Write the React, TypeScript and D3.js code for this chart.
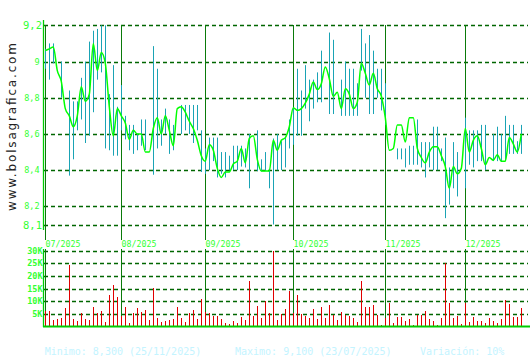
import React from "react";
import * as d3 from "d3";

// ---------- DATA ----------
const priceLine: number[] = [
  9.06, 9.07, 9.08, 8.95, 8.89, 8.74, 8.70, 8.64, 8.70, 8.86,
  8.78, 8.82, 9.10, 8.95, 9.05, 8.99, 8.75, 8.59, 8.74, 8.70,
  8.66, 8.57, 8.62, 8.60, 8.60, 8.50, 8.50, 8.63, 8.69, 8.60,
  8.70, 8.62, 8.535, 8.74, 8.75, 8.72, 8.67, 8.63, 8.565, 8.48,
  8.45, 8.54, 8.51, 8.41, 8.36, 8.39, 8.39, 8.435, 8.45, 8.52,
  8.44, 8.575, 8.59, 8.46, 8.395, 8.395, 8.395, 8.565, 8.51, 8.565,
  8.58, 8.64, 8.745, 8.73, 8.74, 8.77, 8.82, 8.887, 8.845, 8.877,
  8.97, 8.905, 8.807, 8.83, 8.74, 8.85, 8.82, 8.74, 8.775, 8.99,
  8.935, 8.87, 8.935, 8.85, 8.81, 8.69, 8.51, 8.52, 8.65, 8.65,
  8.555, 8.69, 8.69, 8.52, 8.47, 8.44, 8.50, 8.53, 8.53, 8.48,
  8.42, 8.30, 8.42, 8.38, 8.41, 8.63, 8.50, 8.565, 8.59, 8.52,
  8.43, 8.47, 8.455, 8.485, 8.45, 8.45, 8.58, 8.545, 8.50, 8.60,
];

const highs: (number | null)[] = [
  9.07, 9.10, 9.10, null, 9.00, null, 8.84, 8.78, 8.78, 8.91,
  9.00, 9.11, 9.17, 9.18, 9.20, 9.20, 8.82, 8.98, 8.75, 8.87,
  8.70, 8.65, 8.65, 8.60, 8.68, 8.68, null, 9.085, 8.96, 8.68,
  8.74, 8.68, 8.65, null, 8.76, 8.76, 8.76, 8.76, 8.76, 8.62,
  8.52, 8.58, 8.58, 8.58, 8.50, 8.50, 8.48, 8.535, 8.535, 8.535,
  8.52, 8.60, null, 8.62, 8.46, 8.50, 8.40, 8.575, 8.60, 8.56,
  8.58, 8.68, 8.745, 8.96, 8.84, 8.98, 8.90, 8.90, 8.94, 9.06,
  null, 9.16, 9.12, null, 8.90, 9.00, 8.96, 8.96, 8.88, 9.18,
  9.10, 9.146, 9.06, 8.96, 8.96, 8.88, null, null, 8.52, 8.52,
  8.52, 8.535, 8.535, 8.68, 8.555, 8.555, 8.555, 8.64, 8.64, 8.52,
  8.58, 8.415, 8.555, 8.50, null, 8.69, 8.62, 8.62, 8.62, 8.65,
  8.65, null, 8.60, 8.64, 8.60, 8.70, 8.65, 8.65, 8.56, 8.65,
];

const lows: (number | null)[] = [
  8.96, 8.90, 8.99, null, 8.80, null, 8.37, 8.46, 8.62, 8.68,
  8.55, 8.59, 8.72, 8.90, 8.94, 8.52, 8.51, 8.48, 8.48, 8.62,
  8.57, 8.51, 8.49, 8.51, 8.535, 8.51, null, 8.375, 8.52, 8.535,
  8.60, 8.49, 8.51, null, 8.60, 8.62, 8.60, 8.55, 8.62, 8.39,
  8.38, 8.40, 8.45, 8.36, 8.38, 8.36, 8.40, 8.40, 8.40, 8.42,
  8.415, 8.30, null, 8.395, 8.395, 8.395, 8.30, 8.10, 8.40, 8.40,
  8.415, 8.52, 8.54, 8.59, 8.59, 8.74, 8.67, 8.74, 8.775, 8.775,
  null, 8.71, 8.71, null, 8.70, 8.70, 8.70, 8.70, 8.70, 8.95,
  8.80, 8.71, 8.71, 8.80, 8.73, 8.65, null, null, 8.46, 8.46,
  8.415, 8.43, 8.43, 8.43, 8.415, 8.36, 8.415, 8.40, 8.40, 8.45,
  8.135, 8.21, 8.30, 8.255, null, 8.30, 8.43, 8.415, 8.45, 8.45,
  8.40, null, 8.45, 8.45, 8.45, 8.45, 8.49, 8.49, 8.49, 8.49,
];

const volumes: number[] = [
  6100, 6100, 2500, 2900, 3200, 7100, 24300, 2900, 2100, 5200,
  2900, 2500, 7500, 5300, 6100, 1700, 12400, 16400, 11600, 4000,
  7700, 1300, 5400, 7100, 5500, 6500, 2600, 15100, 3300, 1700,
  2100, 2600, 3000, 7700, 3300, 1700, 5300, 6500, 2900, 10800,
  5500, 5200, 4100, 4100, 2900, 1300, 900, 2100, 1300, 3700,
  2500, 18000, 4100, 8100, 3300, 10000, 5300, 30000, 2500, 4900,
  6900, 14000, 5300, 12400, 4900, 4100, 3300, 6900, 2900, 7700,
  3300, 8500, 4500, 2500, 5700, 4500, 4100, 3300, 1700, 18000,
  7700, 7700, 8500, 4500, 500, 3300, 9200, 1300, 3700, 3700,
  2100, 2900, 500, 4500, 4500, 6100, 2900, 2100, 500, 3300,
  25000, 9200, 3300, 4100, 900, 9200, 1700, 3700, 2100, 2100,
  1300, 3300, 2100, 1300, 2900, 10400, 8900, 3700, 3700, 7300,
];

const monthIndex: number[] = [0, 19, 40, 62, 85, 105];
const monthLabels: string[] = ["07/2025", "08/2025", "09/2025", "10/2025", "11/2025", "12/2025"];

const priceTicks: number[] = [9.2, 9.0, 8.8, 8.6, 8.4, 8.2, 8.1];
const priceTickLabels: string[] = ["9,2", "9", "8,8", "8,6", "8,4", "8,2", "8,1"];

const volumeTicks: number[] = [30000, 25000, 20000, 15000, 10000, 5000];
const volumeTickLabels: string[] = ["30K", "25K", "20K", "15K", "10K", "5K"];

const footerTexts: string[] = [
  "Minimo: 8,300 (25/11/2025)",
  "Maximo: 9,100 (23/07/2025)",
  "Variación: 10%",
];

// ---------- STYLE ----------
const W = 530;
const H = 360;
const MONO = "'DejaVu Sans Mono', 'Liberation Mono', monospace";
const GRID = "#006600";
const MONTH = "#0a7a0a";
const AXIS = "#00cc00";
const LABEL = "#33ff33";
const TEAL = "#1aa3b5";
const LINE = "#00ff00";
const RED = "#e00000";
const FOOT = "#c4f4ff";

export default function App() {
  const n = priceLine.length;
  const x = d3.scaleLinear().domain([0, n - 1]).range([45.3, 521.3]);
  const px = (i: number) => Math.round(x(i)) + 0.5;
  const y = d3.scaleLinear().domain([8.2, 9.2]).range([206.4, 25.3]);
  const yv = d3.scaleLinear().domain([0, 30000]).range([326.3, 250.7]);

  const left = 44;
  const right = 528;

  const linePath =
    d3
      .line<number>()
      .x((_, i) => x(i))
      .y((d) => y(d))
      .curve(d3.curveMonotoneX)(priceLine) || "";

  return (
    <svg
      width={W}
      height={H}
      style={{ position: "absolute", left: 0, top: 0, background: "#fff" }}
      xmlns="http://www.w3.org/2000/svg"
    >
      <rect x={0} y={0} width={W} height={H} fill="#fff" />

      {/* watermark */}
      <text
        transform="translate(16,211) rotate(-90)"
        fontFamily="'DejaVu Sans', sans-serif"
        fontSize={12}
        fill="#222"
        textLength={168}
        lengthAdjust="spacing"
      >
        www.bolsagrafica.com
      </text>

      {/* price grid */}
      {priceTicks.map((t, k) => (
        <line
          key={"pg" + k}
          x1={left}
          x2={right}
          y1={Math.round(y(t)) + 0.5}
          y2={Math.round(y(t)) + 0.5}
          stroke={GRID}
          strokeWidth={1.3}
          strokeDasharray="4,3"
        />
      ))}
      {priceTicks.map((t, k) => {
        const big = k === 0 || k === priceTicks.length - 1;
        return (
          <text
            key={"pl" + k}
            x={big ? 42 : 39.5}
            y={y(t) + (big ? 4 : 3)}
            textAnchor="end"
            fontFamily={MONO}
            fontSize={big ? 10.5 : 8.5}
            fill={LABEL}
          >
            {priceTickLabels[k]}
          </text>
        );
      })}

      {/* volume grid */}
      {volumeTicks.map((t, k) => (
        <line
          key={"vg" + k}
          x1={left}
          x2={right}
          y1={Math.round(yv(t)) + 0.5}
          y2={Math.round(yv(t)) + 0.5}
          stroke={GRID}
          strokeWidth={1.3}
          strokeDasharray="4,3"
        />
      ))}
      {volumeTicks.map((t, k) => (
        <text
          key={"vl" + k}
          x={42.5}
          y={yv(t) + 3}
          textAnchor="end"
          fontFamily={MONO}
          fontSize={8.5}
          fontWeight="bold"
          fill={LABEL}
        >
          {volumeTickLabels[k]}
        </text>
      ))}

      {/* month lines & labels */}
      {monthIndex.map((mi, k) => {
        const mx = px(mi);
        return (
          <g key={"m" + k}>
            <line x1={mx} x2={mx} y1={25} y2={240} stroke={MONTH} strokeWidth={1} />
            <line x1={mx} x2={mx} y1={249} y2={326} stroke={MONTH} strokeWidth={1} />
            <text x={mx} y={247} fontFamily={MONO} fontSize={8.3} fill={LABEL}>
              {monthLabels[k]}
            </text>
          </g>
        );
      })}

      {/* axes */}
      <line x1={43.5} x2={43.5} y1={20} y2={230} stroke={AXIS} strokeWidth={1.3} />
      <line x1={43.5} x2={43.5} y1={249} y2={327} stroke={AXIS} strokeWidth={1.3} />

      {/* high-low bars */}
      {highs.map((h, i) => {
        const l = lows[i];
        if (h == null || l == null) return null;
        return (
          <line
            key={"hl" + i}
            x1={px(i)}
            x2={px(i)}
            y1={y(h)}
            y2={y(l)}
            stroke={TEAL}
            strokeWidth={1}
          />
        );
      })}

      {/* price line */}
      <path d={linePath} fill="none" stroke={LINE} strokeWidth={1.5} />

      {/* volume bars */}
      {volumes.map((v, i) => (
        <rect
          key={"v" + i}
          x={Math.round(x(i))}
          y={Math.round(yv(v))}
          width={1}
          height={Math.round(yv(0)) - Math.round(yv(v))}
          fill={RED}
        />
      ))}
      <line x1={43} x2={530} y1={326.5} y2={326.5} stroke={AXIS} strokeWidth={2} />

      {/* footer */}
      <text x={44.7} y={355} fontFamily={MONO} fontSize={10} fill={FOOT}>
        {footerTexts[0]}
      </text>
      <text x={235} y={355} fontFamily={MONO} fontSize={10} fill={FOOT}>
        {footerTexts[1]}
      </text>
      <text x={420} y={355} fontFamily={MONO} fontSize={10} fill={FOOT}>
        {footerTexts[2]}
      </text>
    </svg>
  );
}
